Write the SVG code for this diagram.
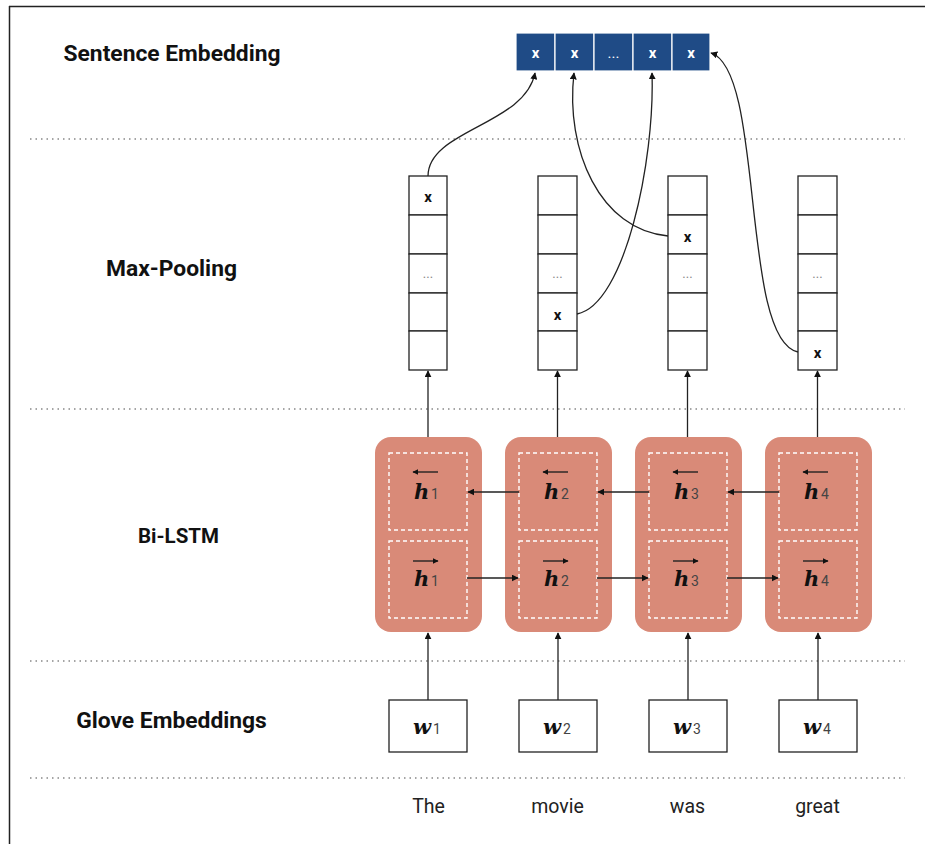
<svg xmlns="http://www.w3.org/2000/svg" width="925" height="844" viewBox="0 0 925 844">
  <style>
    .lbl { font-family: Roboto, "Liberation Sans", sans-serif; font-weight: bold; font-size: 22.8px; fill: #111; text-anchor: middle; }
    .lbl.short { font-size: 20.5px; }
    .word { font-family: Roboto, "Liberation Sans", sans-serif; font-size: 19.5px; fill: #222; text-anchor: middle; }
    .sep { stroke: #888; stroke-width: 1.3; stroke-dasharray: 1.5 4; fill: none; }
    .cell { fill: #fff; stroke: #222; stroke-width: 1.3; }
    .emb { fill: #1f4b86; stroke: #fff; stroke-width: 1.2; }
    .embt { font-family: Roboto, "Liberation Sans", sans-serif; font-weight: bold; font-size: 15px; fill: #fff; text-anchor: middle; }
    .embt.ell { font-weight: normal; }
    .xt { font-family: Roboto, "Liberation Sans", sans-serif; font-weight: bold; font-size: 15px; fill: #111; text-anchor: middle; }
    .dots { font-family: Roboto, "Liberation Sans", sans-serif; font-size: 13px; fill: #888; text-anchor: middle; }
    .lstm { fill: #d98a78; }
    .inner { fill: none; stroke: #fff; stroke-width: 1.4; stroke-dasharray: 4 3; }
    .hv { font-family: "DejaVu Serif", "Liberation Serif", serif; font-weight: bold; font-style: italic; font-size: 21px; fill: #111; }
    .sub { font-family: Roboto, "Liberation Sans", sans-serif; font-size: 14px; fill: #444; }
    .wv { font-family: "DejaVu Serif", "Liberation Serif", serif; font-weight: bold; font-style: italic; font-size: 21px; fill: #111; }
    .con { fill: none; stroke: #222; stroke-width: 1.3; }
    .vec { fill: none; stroke: #222; stroke-width: 1.4; }
  </style>
  <defs>
    <marker id="ah" viewBox="0 0 10 10" refX="9" refY="5" markerWidth="7" markerHeight="7" markerUnits="userSpaceOnUse" orient="auto">
      <path d="M0,0 L10,5 L0,10 z" fill="#111"/>
    </marker>
    <marker id="vh" viewBox="0 0 10 10" refX="9" refY="5" markerWidth="6" markerHeight="6" markerUnits="userSpaceOnUse" orient="auto">
      <path d="M0,0 L10,5 L0,10 z" fill="#111"/>
    </marker>
  </defs>

  <rect width="925" height="844" fill="#fff"/>
  <!-- frame edges -->
  <line x1="9.5" y1="6" x2="9.5" y2="844" stroke="#222" stroke-width="1.5"/>
  <line x1="9" y1="6.5" x2="925" y2="6.5" stroke="#222" stroke-width="1.5"/>

  <!-- row separators -->
  <g id="separators">
    <line class="sep" x1="30" y1="139" x2="905" y2="139"/>
    <line class="sep" x1="30" y1="409" x2="905" y2="409"/>
    <line class="sep" x1="30" y1="661" x2="905" y2="661"/>
    <line class="sep" x1="30" y1="778" x2="905" y2="778"/>
  </g>

  <!-- row labels -->
  <g id="labels">
    <text class="lbl" x="172" y="61">Sentence Embedding</text>
    <text class="lbl" x="171.5" y="276">Max-Pooling</text>
    <text class="lbl short" x="178.5" y="543">Bi-LSTM</text>
    <text class="lbl" x="171.5" y="728">Glove Embeddings</text>
  </g>

  <!-- sentence embedding vector -->
  <g id="sentence-embedding">
    <rect class="emb" x="516" y="33" width="39" height="38"/>
    <rect class="emb" x="555" y="33" width="39" height="38"/>
    <rect class="emb" x="594" y="33" width="39" height="38"/>
    <rect class="emb" x="633" y="33" width="39" height="38"/>
    <rect class="emb" x="672" y="33" width="38" height="38"/>
    <text class="embt" x="535.5" y="57.5">x</text>
    <text class="embt" x="574.5" y="57.5">x</text>
    <text class="embt ell" x="613.5" y="57.5">...</text>
    <text class="embt" x="652.5" y="57.5">x</text>
    <text class="embt" x="691" y="57.5">x</text>
  </g>

  <!-- max-pooling columns -->
  <g id="pool-1">
    <rect class="cell" x="409" y="176" width="38" height="39"/>
    <rect class="cell" x="409" y="215" width="38" height="39"/>
    <rect class="cell" x="409" y="254" width="38" height="39"/>
    <rect class="cell" x="409" y="293" width="38" height="38"/>
    <rect class="cell" x="409" y="331" width="38" height="39"/>
    <text class="xt" x="428" y="201.5">x</text>
    <text class="dots" x="428" y="278">...</text>
  </g>
  <g id="pool-2">
    <rect class="cell" x="538" y="176" width="39" height="39"/>
    <rect class="cell" x="538" y="215" width="39" height="39"/>
    <rect class="cell" x="538" y="254" width="39" height="39"/>
    <rect class="cell" x="538" y="293" width="39" height="38"/>
    <rect class="cell" x="538" y="331" width="39" height="39"/>
    <text class="xt" x="557.5" y="319.5">x</text>
    <text class="dots" x="557.5" y="278">...</text>
  </g>
  <g id="pool-3">
    <rect class="cell" x="668" y="176" width="39" height="39"/>
    <rect class="cell" x="668" y="215" width="39" height="39"/>
    <rect class="cell" x="668" y="254" width="39" height="39"/>
    <rect class="cell" x="668" y="293" width="39" height="38"/>
    <rect class="cell" x="668" y="331" width="39" height="39"/>
    <text class="xt" x="687.5" y="241.5">x</text>
    <text class="dots" x="687.5" y="278">...</text>
  </g>
  <g id="pool-4">
    <rect class="cell" x="798" y="176" width="39" height="39"/>
    <rect class="cell" x="798" y="215" width="39" height="39"/>
    <rect class="cell" x="798" y="254" width="39" height="39"/>
    <rect class="cell" x="798" y="293" width="39" height="38"/>
    <rect class="cell" x="798" y="331" width="39" height="39"/>
    <text class="xt" x="817.5" y="357.5">x</text>
    <text class="dots" x="817.5" y="278">...</text>
  </g>

  <!-- Bi-LSTM cells -->
  <g id="lstm-1">
    <rect class="lstm" x="375" y="437" width="107" height="195" rx="16"/>
    <rect class="inner" x="389" y="453" width="78" height="77"/>
    <rect class="inner" x="389" y="541" width="78" height="77"/>
    <line class="vec" x1="438" y1="472" x2="413" y2="472" marker-end="url(#vh)"/>
    <text class="hv" x="414" y="499">h</text><text class="sub" x="431" y="499">1</text>
    <line class="vec" x1="413" y1="561" x2="438" y2="561" marker-end="url(#vh)"/>
    <text class="hv" x="414" y="586">h</text><text class="sub" x="431" y="586">1</text>
  </g>
  <g id="lstm-2">
    <rect class="lstm" x="505" y="437" width="107" height="195" rx="16"/>
    <rect class="inner" x="519" y="453" width="78" height="77"/>
    <rect class="inner" x="519" y="541" width="78" height="77"/>
    <line class="vec" x1="568" y1="472" x2="543" y2="472" marker-end="url(#vh)"/>
    <text class="hv" x="544" y="499">h</text><text class="sub" x="561" y="499">2</text>
    <line class="vec" x1="543" y1="561" x2="568" y2="561" marker-end="url(#vh)"/>
    <text class="hv" x="544" y="586">h</text><text class="sub" x="561" y="586">2</text>
  </g>
  <g id="lstm-3">
    <rect class="lstm" x="635" y="437" width="107" height="195" rx="16"/>
    <rect class="inner" x="649" y="453" width="78" height="77"/>
    <rect class="inner" x="649" y="541" width="78" height="77"/>
    <line class="vec" x1="698" y1="472" x2="673" y2="472" marker-end="url(#vh)"/>
    <text class="hv" x="674" y="499">h</text><text class="sub" x="691" y="499">3</text>
    <line class="vec" x1="673" y1="561" x2="698" y2="561" marker-end="url(#vh)"/>
    <text class="hv" x="674" y="586">h</text><text class="sub" x="691" y="586">3</text>
  </g>
  <g id="lstm-4">
    <rect class="lstm" x="765" y="437" width="107" height="195" rx="16"/>
    <rect class="inner" x="779" y="453" width="78" height="77"/>
    <rect class="inner" x="779" y="541" width="78" height="77"/>
    <line class="vec" x1="828" y1="472" x2="803" y2="472" marker-end="url(#vh)"/>
    <text class="hv" x="804" y="499">h</text><text class="sub" x="821" y="499">4</text>
    <line class="vec" x1="803" y1="561" x2="828" y2="561" marker-end="url(#vh)"/>
    <text class="hv" x="804" y="586">h</text><text class="sub" x="821" y="586">4</text>
  </g>

  <!-- word embeddings -->
  <g id="glove-1">
    <rect class="cell" x="389" y="700" width="78" height="52"/>
    <text class="wv" x="413" y="734">w</text><text class="sub" x="433" y="734">1</text>
  </g>
  <g id="glove-2">
    <rect class="cell" x="519" y="700" width="78" height="52"/>
    <text class="wv" x="543" y="734">w</text><text class="sub" x="563" y="734">2</text>
  </g>
  <g id="glove-3">
    <rect class="cell" x="649" y="700" width="78" height="52"/>
    <text class="wv" x="673" y="734">w</text><text class="sub" x="693" y="734">3</text>
  </g>
  <g id="glove-4">
    <rect class="cell" x="779" y="700" width="78" height="52"/>
    <text class="wv" x="803" y="734">w</text><text class="sub" x="823" y="734">4</text>
  </g>

  <!-- input words -->
  <g id="words">
    <text class="word" x="428.5" y="813">The</text>
    <text class="word" x="557.5" y="813">movie</text>
    <text class="word" x="687.5" y="813">was</text>
    <text class="word" x="817.5" y="813">great</text>
  </g>

  <!-- connectors -->
  <g id="connectors">
    <!-- glove to LSTM -->
    <line class="con" x1="428" y1="700" x2="428" y2="633" marker-end="url(#ah)"/>
    <line class="con" x1="558" y1="700" x2="558" y2="633" marker-end="url(#ah)"/>
    <line class="con" x1="688" y1="700" x2="688" y2="633" marker-end="url(#ah)"/>
    <line class="con" x1="818" y1="700" x2="818" y2="633" marker-end="url(#ah)"/>
    <!-- backward pass -->
    <line class="con" x1="519" y1="492" x2="468" y2="492" marker-end="url(#ah)"/>
    <line class="con" x1="649" y1="492" x2="598" y2="492" marker-end="url(#ah)"/>
    <line class="con" x1="779" y1="492" x2="728" y2="492" marker-end="url(#ah)"/>
    <!-- forward pass -->
    <line class="con" x1="467" y1="578" x2="518" y2="578" marker-end="url(#ah)"/>
    <line class="con" x1="597" y1="578" x2="648" y2="578" marker-end="url(#ah)"/>
    <line class="con" x1="727" y1="578" x2="778" y2="578" marker-end="url(#ah)"/>
    <!-- LSTM to pooling -->
    <line class="con" x1="428" y1="437" x2="428" y2="371" marker-end="url(#ah)"/>
    <line class="con" x1="557.5" y1="437" x2="557.5" y2="371" marker-end="url(#ah)"/>
    <line class="con" x1="687.5" y1="437" x2="687.5" y2="371" marker-end="url(#ah)"/>
    <line class="con" x1="817.5" y1="437" x2="817.5" y2="371" marker-end="url(#ah)"/>
    <!-- pooled maxima to sentence vector -->
    <path class="con" d="M428,176 C428,130 525,125 535,73" marker-end="url(#ah)"/>
    <path class="con" d="M577,314 C625,305 655,160 652,73" marker-end="url(#ah)"/>
    <path class="con" d="M668,236 C600,230 565,150 574,73" marker-end="url(#ah)"/>
    <path class="con" d="M798,352 C740,340 765,70 711,53" marker-end="url(#ah)"/>
  </g>
</svg>
